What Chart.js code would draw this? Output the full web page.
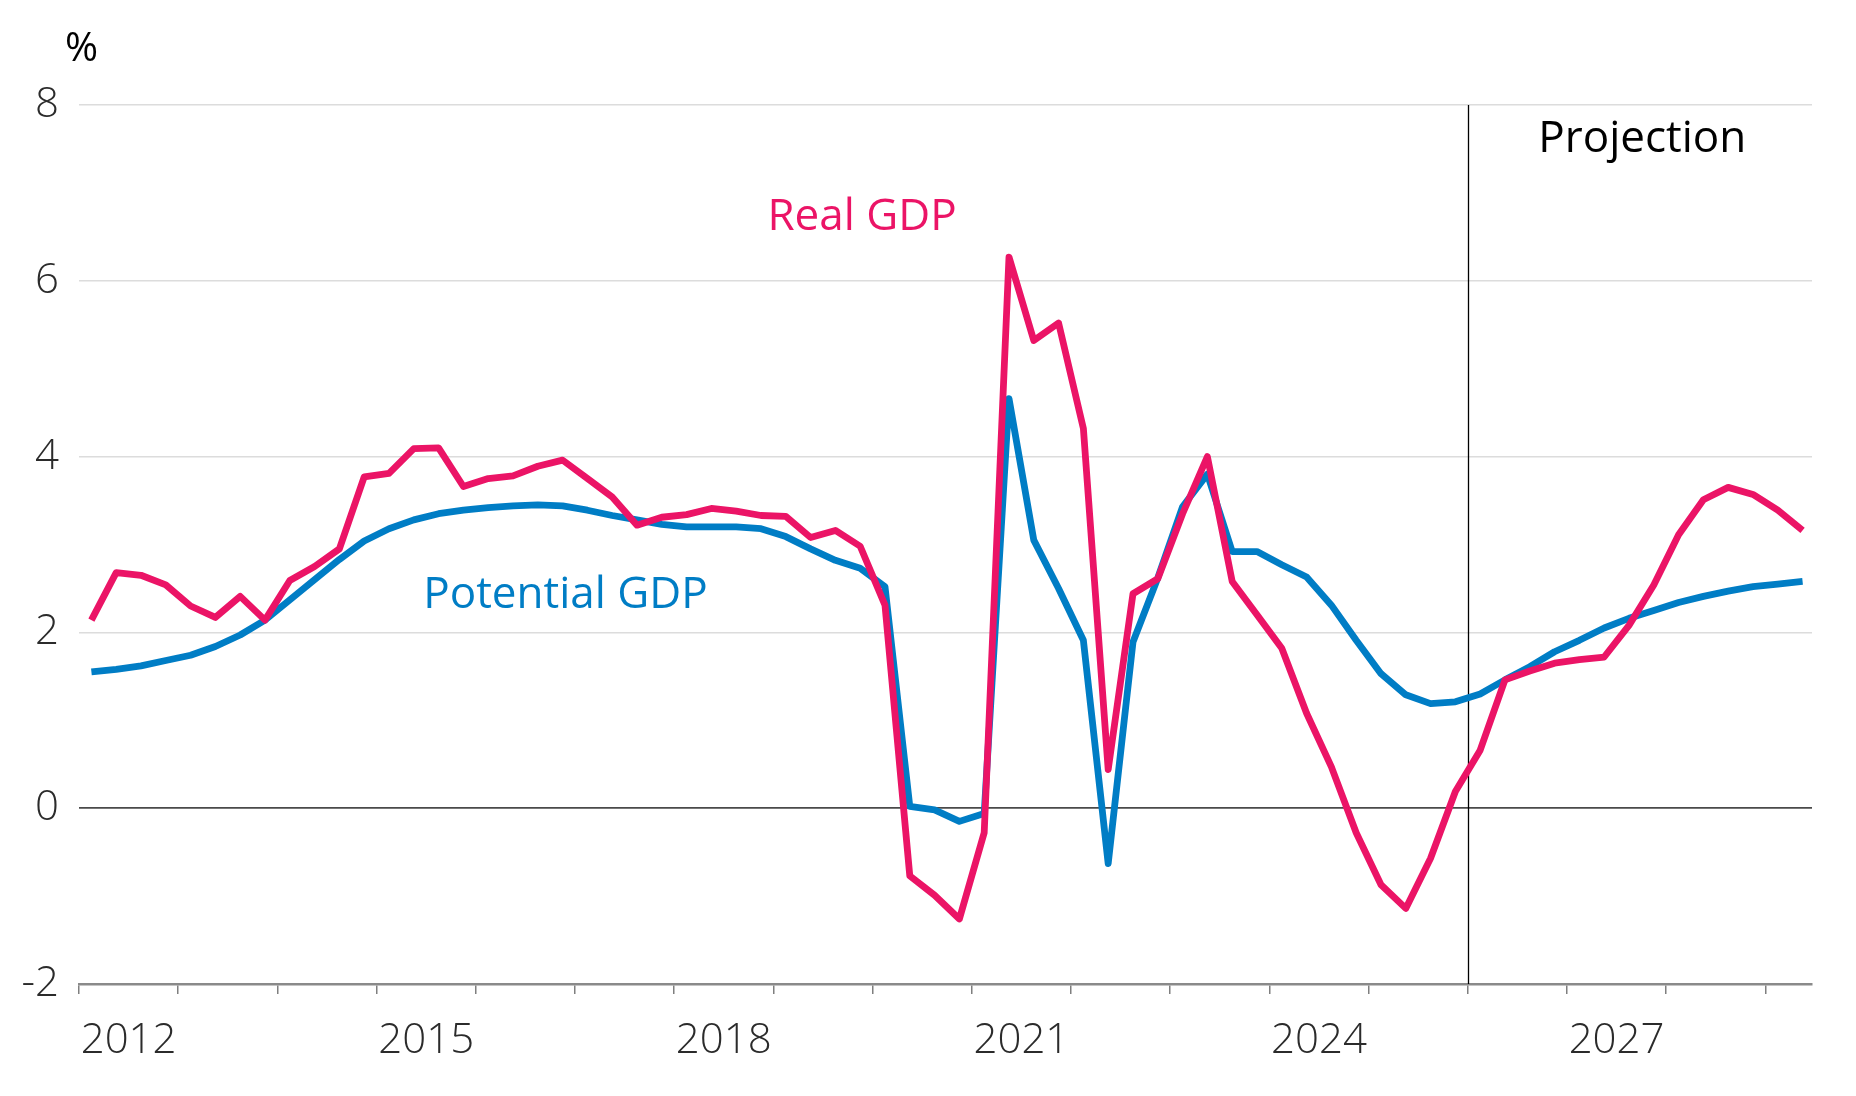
<!DOCTYPE html>
<html>
<head>
<meta charset="utf-8">
<script src="https://cdn.jsdelivr.net/npm/chart.js@4.4.1/dist/chart.umd.min.js"></script>
<style>
    html, body { margin: 0; padding: 0; background: #ffffff; }
    #gdpChart { display: block; }
</style>
</head>
<body>
<canvas id="gdpChart" width="1856" height="1096"></canvas>
<script>
// quarterly, 2012Q1 .. 2029Q2
const startYear = 2012;
const quarterCount = 70;
const quarters = [];
for (let i = 0; i < quarterCount; i++) {
    quarters.push(`${startYear + Math.floor(i / 4)}Q${(i % 4) + 1}`);
}

const realGdp = [
    2.14, 2.68, 2.65, 2.54, 2.30, 2.17, 2.41, 2.14, 2.59, 2.75,
    2.95, 3.77, 3.81, 4.09, 4.10, 3.66, 3.75, 3.78, 3.89, 3.96,
    3.75, 3.54, 3.22, 3.31, 3.34, 3.41, 3.38, 3.33, 3.32, 3.08,
    3.16, 2.98, 2.31, -0.77, -0.99, -1.26, -0.28, 6.27, 5.32, 5.52,
    4.32, 0.44, 2.44, 2.61, 3.35, 4.00, 2.58, 2.20, 1.82, 1.08,
    0.47, -0.28, -0.87, -1.14, -0.57, 0.19, 0.66, 1.46, 1.56, 1.65,
    1.69, 1.72, 2.08, 2.54, 3.11, 3.51, 3.65, 3.57, 3.39, 3.16
];

const potentialGdp = [
    1.55, 1.58, 1.62, 1.68, 1.74, 1.84, 1.97, 2.14, 2.37, 2.60,
    2.83, 3.04, 3.18, 3.28, 3.35, 3.39, 3.42, 3.44, 3.45, 3.44,
    3.39, 3.33, 3.28, 3.23, 3.20, 3.20, 3.20, 3.18, 3.09, 2.95,
    2.82, 2.73, 2.52, 0.02, -0.02, -0.15, -0.06, 4.66, 3.05, 2.50,
    1.91, -0.63, 1.89, 2.62, 3.43, 3.80, 2.92, 2.92, 2.77, 2.63,
    2.31, 1.91, 1.53, 1.29, 1.19, 1.21, 1.30, 1.46, 1.61, 1.78,
    1.91, 2.05, 2.16, 2.25, 2.34, 2.41, 2.47, 2.52, 2.55, 2.58
];

const yTicks = [-2, 0, 2, 4, 6, 8];
const yearTicks = [2012, 2013, 2014, 2015, 2016, 2017, 2018, 2019, 2020,
    2021, 2022, 2023, 2024, 2025, 2026, 2027, 2028, 2029];
const yearLabels = [2012, 2015, 2018, 2021, 2024, 2027];
const projectionStart = 2026;

const RED = '#EB1466';
const BLUE = '#007DC5';
const FONT = "'Open Sans', 'Noto Sans', sans-serif";

// mid-quarter position on a year axis
const quarterToYear = (q) => {
    const [y, n] = q.split('Q');
    return Number(y) + (Number(n) - 0.5) / 4;
};

const toPoints = (values) => quarters.map((q, i) => ({ x: quarterToYear(q), y: values[i] }));

// text labels, positioned in data units
const chartLabels = [
    { text: '%', x: 2011.86, y: 8.5, color: '#000000', size: 40 },
    { text: 'Real GDP', x: 2018.94, y: 6.58, color: RED, size: 44 },
    { text: 'Potential GDP', x: 2015.47, y: 2.28, color: BLUE, size: 44 },
    { text: 'Projection', x: 2026.71, y: 7.47, color: '#000000', size: 44 }
];

const projectionPlugin = {
    id: 'projection',
    beforeDatasetsDraw(chart) {
        const { ctx, chartArea, scales } = chart;
        const px = Math.round(scales.x.getPixelForValue(projectionStart)) + 0.5;
        ctx.save();
        ctx.strokeStyle = '#000000';
        ctx.lineWidth = 1.3;
        ctx.beginPath();
        ctx.moveTo(px, chartArea.top);
        ctx.lineTo(px, chartArea.bottom);
        ctx.stroke();
        ctx.restore();
    },
    afterDatasetsDraw(chart) {
        const { ctx, scales } = chart;
        ctx.save();
        ctx.textAlign = 'left';
        ctx.textBaseline = 'alphabetic';
        chartLabels.forEach(l => {
            ctx.font = `${l.size}px ${FONT}`;
            ctx.fillStyle = l.color;
            ctx.fillText(l.text, scales.x.getPixelForValue(l.x), scales.y.getPixelForValue(l.y));
        });
        ctx.restore();
    }
};

const yGridColor = (c) => {
    if (c.tick.value === 0) return '#4a4a4a';
    if (c.tick.value === -2) return 'rgba(0,0,0,0)';
    return '#dcdcdc';
};

new Chart(document.getElementById('gdpChart'), {
    type: 'line',
    data: {
        datasets: [
            {
                label: 'Real GDP',
                data: toPoints(realGdp),
                borderColor: RED,
                borderWidth: 6.8,
                borderJoinStyle: 'round',
                pointRadius: 0,
                tension: 0
            },
            {
                label: 'Potential GDP',
                data: toPoints(potentialGdp),
                borderColor: BLUE,
                borderWidth: 6.8,
                borderJoinStyle: 'round',
                pointRadius: 0,
                tension: 0
            }
        ]
    },
    options: {
        responsive: false,
        animation: false,
        layout: { padding: { top: 105, right: 44, left: 0, bottom: 0 } },
        plugins: {
            legend: { display: false },
            tooltip: { enabled: false }
        },
        scales: {
            x: {
                type: 'linear',
                min: 2012,
                max: 2029.47,
                afterBuildTicks: (axis) => { axis.ticks = yearTicks.map(v => ({ value: v })); },
                afterFit: (scale) => { scale.height = 112; },
                grid: {
                    drawOnChartArea: false,
                    drawTicks: true,
                    tickLength: 10,
                    color: '#7f7f7f',
                    lineWidth: 1.5
                },
                border: { color: '#8a8a8a', width: 2.5 },
                ticks: {
                    autoSkip: false,
                    maxRotation: 0,
                    labelOffset: 49.6,
                    padding: 22,
                    color: '#2b2b2b',
                    font: { family: FONT, size: 42, weight: '300' },
                    callback: (v) => yearLabels.includes(v) ? String(v) : ''
                }
            },
            y: {
                min: -2,
                max: 8,
                afterBuildTicks: (axis) => { axis.ticks = yTicks.map(v => ({ value: v })); },
                afterFit: (scale) => { scale.width = 79; },
                grid: {
                    drawTicks: false,
                    color: yGridColor,
                    lineWidth: (c) => c.tick.value === 0 ? 1.8 : 1.5
                },
                border: { display: false },
                ticks: {
                    padding: 20,
                    color: '#2b2b2b',
                    font: { family: FONT, size: 42, weight: '300' }
                }
            }
        }
    },
    plugins: [projectionPlugin]
});
</script>
</body>
</html>
